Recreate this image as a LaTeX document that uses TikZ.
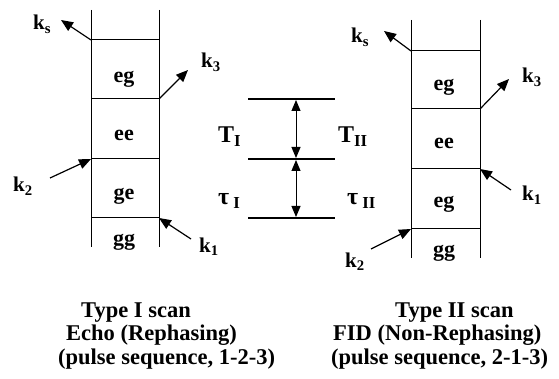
\documentclass[tikz,border=0pt]{standalone}
\usepackage{fontspec}
\setmainfont{Liberation Serif}
\usetikzlibrary{arrows.meta}
\begin{document}
\begin{tikzpicture}[x=1pt,y=-1pt,
  rail/.style={line width=1pt},
  rung/.style={line width=1pt},
  kvec/.style={line width=1.2pt,-{Triangle[length=12pt,width=10pt]}},
  lvl/.style={line width=2.4pt},
  dbl/.style={line width=1pt,{Triangle[length=11pt,width=9pt]}-{Triangle[length=11pt,width=9pt]}},
  lab/.style={font=\bfseries\fontsize{22}{24}\selectfont,inner sep=0pt,anchor=base},
  klab/.style={font=\bfseries\fontsize{21}{23}\selectfont,inner sep=0pt,anchor=base west},
  tlab/.style={font=\bfseries\fontsize{24}{26}\selectfont,inner sep=0pt,anchor=base west},
  captext/.style={font=\bfseries\fontsize{22.5}{24}\selectfont,inner sep=0pt,anchor=base west}]
\useasboundingbox (0,0) rectangle (559,379);
% ---------- left ladder ----------
\coordinate (LT1) at (91,10);  \coordinate (LB1) at (91,247);
\coordinate (RT1) at (159,10); \coordinate (RB1) at (159,247);
\draw[rail] (LT1) -- (LB1);
\draw[rail] (RT1) -- (RB1);
\foreach \n/\y in {a/40,b/99,c/159,d/218}{
  \coordinate (L\n) at (91,\y); \coordinate (R\n) at (159,\y);
  \draw[rung] (L\n) -- (R\n);
}
\node[lab] (eg1) at (124,83) {eg};
\node[lab] (ee1) at (124,141) {ee};
\node[lab] (ge1) at (124,200) {ge};
\node[lab] (gg1) at (124,246) {gg};
\coordinate (ks1t) at (61,20);
\coordinate (k31t) at (188,70);
\coordinate (k21s) at (50,178);
\coordinate (k11s) at (191,239);
\draw[kvec] (La) -- (ks1t);
\draw[kvec] (Rb) -- (k31t);
\draw[kvec] (k21s) -- (Lc);
\draw[kvec] (k11s) -- (Rd);
\node[klab] (ks1) at (33,30) {k\textsubscript{s}};
\node[klab] (k31) at (201,68) {k\textsubscript{3}};
\node[klab] (k21) at (13,192) {k\textsubscript{2}};
\node[klab] (k11) at (199,252) {k\textsubscript{1}};
% ---------- middle ----------
\coordinate (m1l) at (248,99);  \coordinate (m1r) at (335,99);
\coordinate (m2l) at (248,159); \coordinate (m2r) at (335,159);
\coordinate (m3l) at (248,218); \coordinate (m3r) at (335,218);
\draw[lvl] (m1l) -- (m1r);
\draw[lvl] (m2l) -- (m2r);
\draw[lvl] (m3l) -- (m3r);
\coordinate (v1) at (296,100); \coordinate (v2) at (296,158);
\coordinate (v3) at (296,160); \coordinate (v4) at (296,217);
\draw[dbl] (v1) -- (v2);
\draw[dbl] (v3) -- (v4);
\node[tlab] (TI) at (218,143) {T\textsubscript{I}};
\node[tlab] (TII) at (338,143) {T\textsubscript{II}};
\node[tlab] (tauI) at (218,205) {τ\,\textsubscript{I}};
\node[tlab] (tauII) at (347,205) {τ\,\textsubscript{II}};
% ---------- right ladder ----------
\coordinate (LT2) at (411,20);  \coordinate (LB2) at (411,258);
\coordinate (RT2) at (480,20);  \coordinate (RB2) at (480,258);
\draw[rail] (LT2) -- (LB2);
\draw[rail] (RT2) -- (RB2);
\foreach \n/\y in {a/51,b/109,c/169,d/229}{
  \coordinate (P\n) at (411,\y); \coordinate (Q\n) at (480,\y);
  \draw[rung] (P\n) -- (Q\n);
}
\node[lab] (eg2) at (444,91) {eg};
\node[lab] (ee2) at (444,149) {ee};
\node[lab] (eg3) at (444,208) {eg};
\node[lab] (gg2) at (444,256) {gg};
\coordinate (ks2t) at (384,31);
\coordinate (k32t) at (509,79);
\coordinate (k12s) at (511,190);
\coordinate (k22s) at (371,249);
\draw[kvec] (Pa) -- (ks2t);
\draw[kvec] (Qb) -- (k32t);
\draw[kvec] (k12s) -- (Qc);
\draw[kvec] (k22s) -- (Pd);
\node[klab] (ks2) at (351,43) {k\textsubscript{s}};
\node[klab] (k32) at (522,83) {k\textsubscript{3}};
\node[klab] (k12) at (522,201) {k\textsubscript{1}};
\node[klab] (k22) at (345,267) {k\textsubscript{2}};
% ---------- captions ----------
\node[captext] (c1) at (81,317) {Type I scan};
\node[captext] (c2) at (66,340) {Echo (Rephasing)};
\node[captext] (c3) at (58,364) {(pulse sequence, 1-2-3)};
\node[captext] (c4) at (395,317) {Type II scan};
\node[captext] (c5) at (333,340) {FID (Non-Rephasing)};
\node[captext] (c6) at (331,364) {(pulse sequence, 2-1-3)};
\end{tikzpicture}
\end{document}
